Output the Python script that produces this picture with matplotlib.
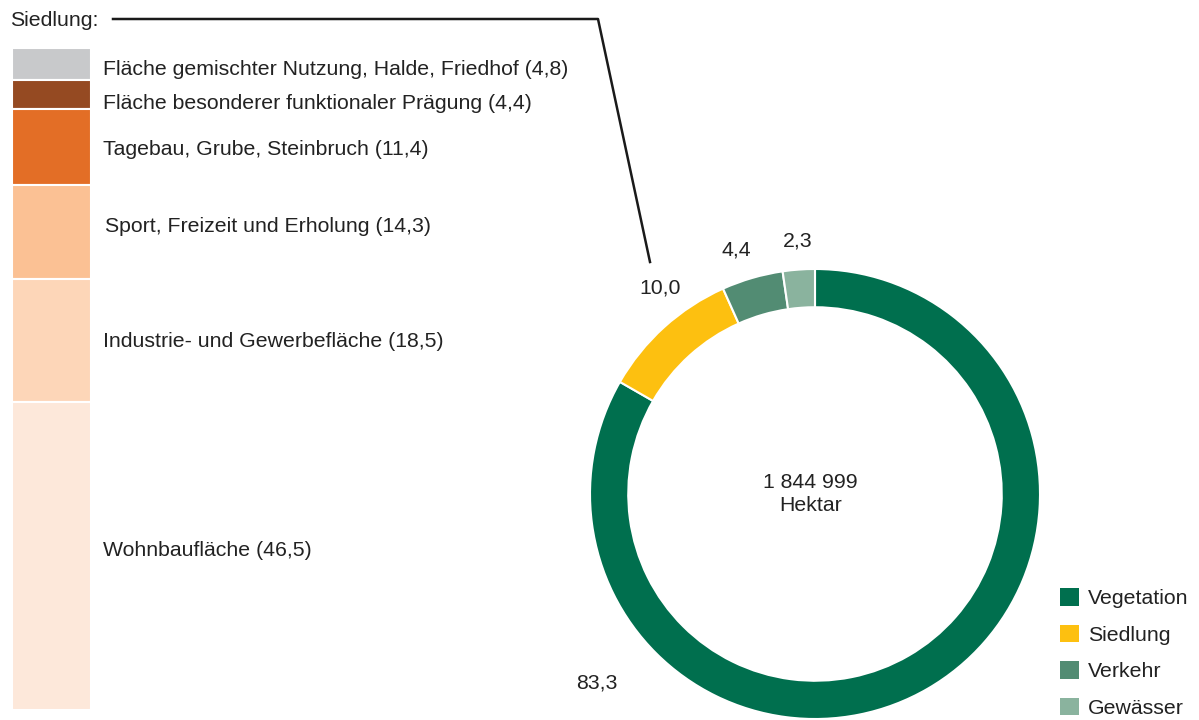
import matplotlib.pyplot as plt
from matplotlib.patches import Patch
from matplotlib.lines import Line2D

plt.rcParams['font.family'] = ['Liberation Sans', 'DejaVu Sans']

# Donut data (percent)
ring_labels = ['Vegetation', 'Siedlung', 'Verkehr', 'Gewässer']
ring_values = [83.3, 10.0, 4.4, 2.3]
ring_colors = ['#006f4e', '#fdc010', '#528c73', '#8ab39e']
total_text = '1 844 999\nHektar'

# Siedlung breakdown (top to bottom)
sub_labels = ['Fläche gemischter Nutzung, Halde, Friedhof',
              'Fläche besonderer funktionaler Prägung',
              'Tagebau, Grube, Steinbruch',
              'Sport, Freizeit und Erholung',
              'Industrie- und Gewerbefläche',
              'Wohnbaufläche']
sub_values = [4.8, 4.4, 11.4, 14.3, 18.5, 46.5]
sub_colors = ['#c8c9cb', '#954a22', '#e36e26', '#fbc194', '#fdd6b8', '#fde8da']
# small hand placement of the labels (pixels, x / y downwards)
label_nudge = [(2, 6), (2, 9), (2, 3), (4, -5), (2, 1), (2, -5)]

W, H = 1199, 720
fig = plt.figure(figsize=(W / 100, H / 100), dpi=100)
txt = '#222222'
fs = 15.3

def fx(px):
    return px / W

def fy(py):
    return 1 - py / H

# stacked bar on the left
axb = fig.add_axes([fx(12), fy(710), fx(91) - fx(12), fy(48) - fy(710)])
bottom = 0
for lab, val, col, (dx, dy) in zip(sub_labels, sub_values, sub_colors, label_nudge):
    axb.bar(0, val, bottom=bottom, width=1, color=col, edgecolor='white', linewidth=1.5)
    axb.annotate(f'{lab} ({val:.1f})'.replace('.', ','), xy=(0.63, bottom + val / 2),
                 xytext=(dx, -dy), textcoords='offset pixels',
                 va='center', ha='left', fontsize=fs, color=txt, annotation_clip=False)
    bottom += val
axb.set_xlim(-0.5, 0.5)
axb.set_ylim(sum(sub_values), 0)
axb.axis('off')

fig.text(fx(10), fy(20), 'Siedlung:', ha='left', va='center', fontsize=fs, color=txt)
fig.add_artist(Line2D([fx(113), fx(598), fx(650)], [fy(19), fy(19), fy(262)],
                      transform=fig.transFigure, color='#1a1a1a', lw=1.8))

# donut
cx, cy, r = 815, 494, 225
axd = fig.add_axes([fx(cx - r), fy(cy + r), fx(2 * r), fy(cy - r) - fy(cy + r)])
axd.pie(ring_values, colors=ring_colors, startangle=90, counterclock=False, radius=1,
        wedgeprops=dict(width=0.17, edgecolor='white', linewidth=1.5))
axd.set_xlim(-1, 1)
axd.set_ylim(-1, 1)
axd.set_aspect('equal')
axd.axis('off')

label_pos = [(-0.97, -0.84), (-0.69, 0.915), (-0.35, 1.085), (-0.076, 1.125)]
for val, (x, y) in zip(ring_values, label_pos):
    axd.text(x, y, f'{val:.1f}'.replace('.', ','), ha='center', va='center',
             fontsize=fs, color=txt, clip_on=False)
axd.text(-0.02, -0.0, total_text, ha='center', va='center', fontsize=fs,
         color=txt, linespacing=1.25)

handles = [Patch(facecolor=c, edgecolor='none') for c in ring_colors]
fig.legend(handles, ring_labels, loc='upper left', bbox_to_anchor=(fx(1043), fy(571)),
           frameon=False, fontsize=fs, handlelength=0.9, handleheight=0.9,
           labelspacing=0.77, handletextpad=0.4, labelcolor=txt, borderpad=0.3)

fig.savefig('out.png', dpi=100)
